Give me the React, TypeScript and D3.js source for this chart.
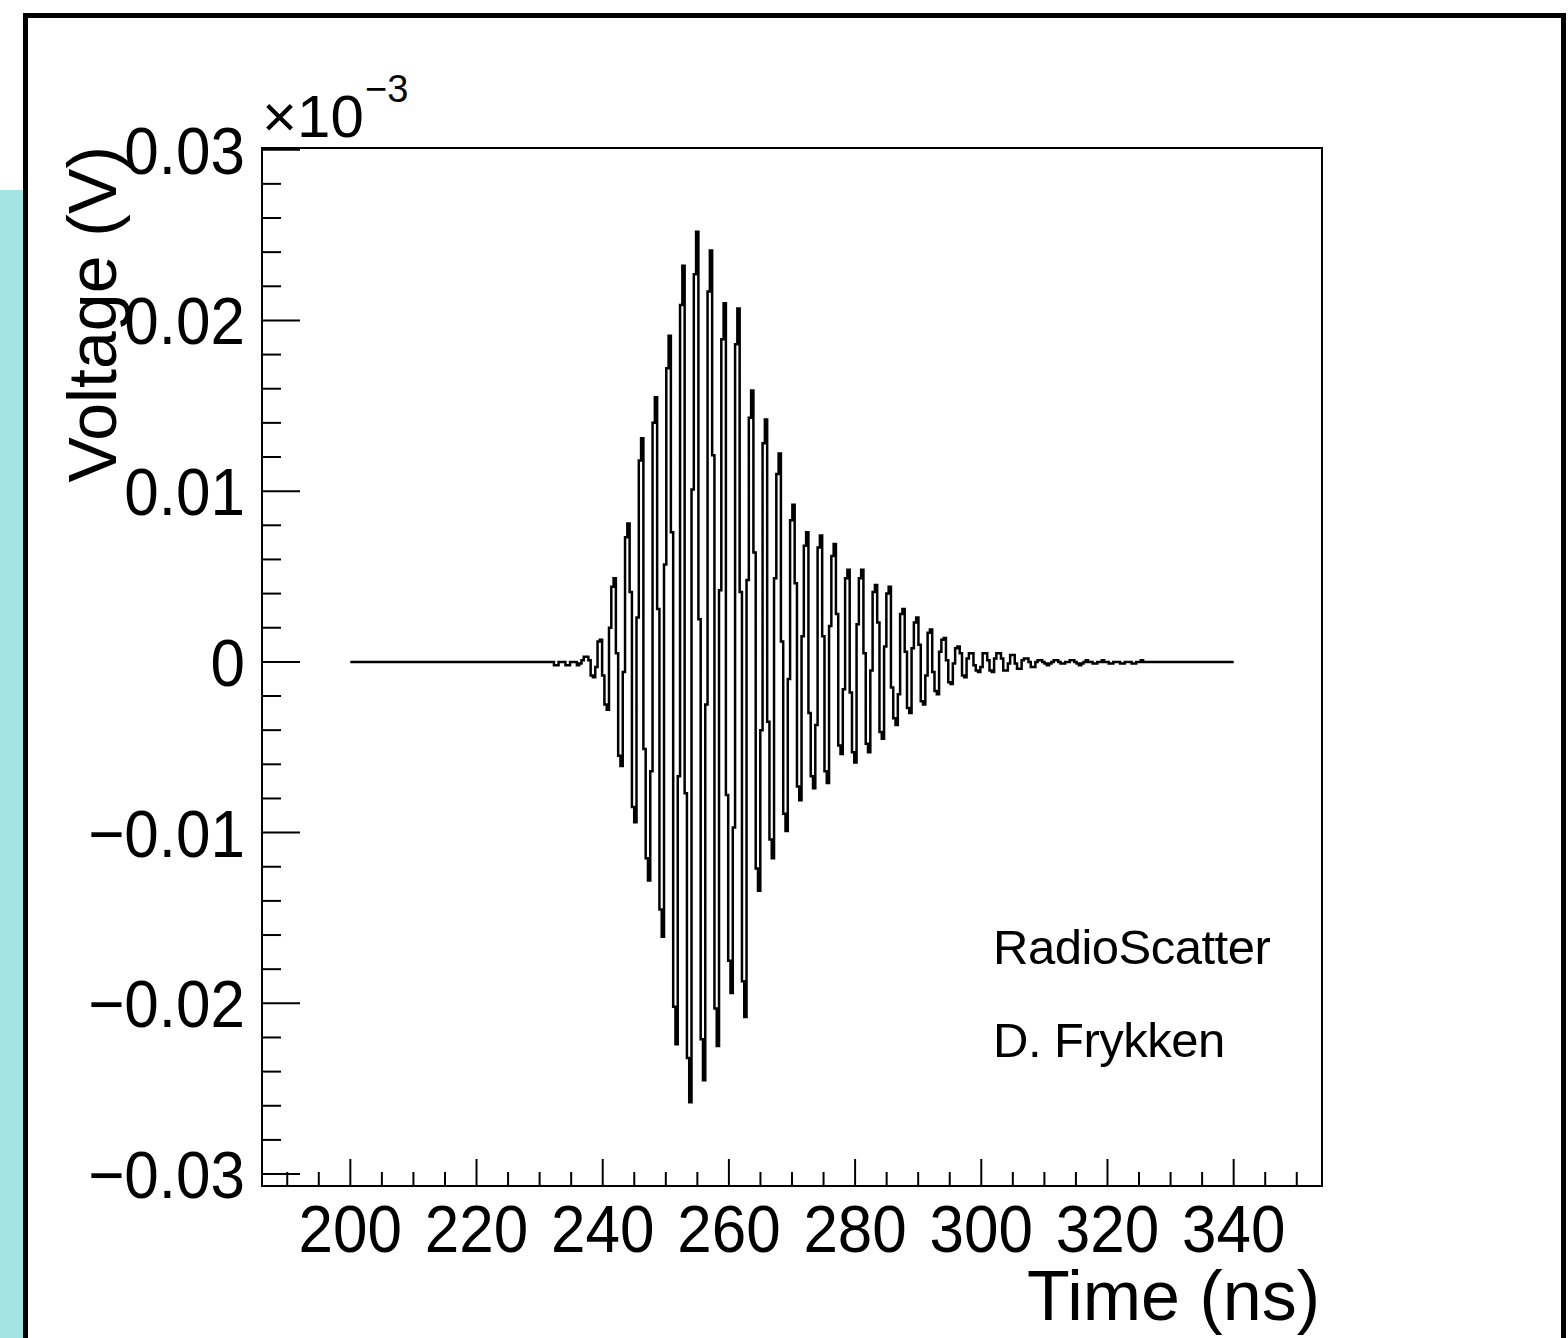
import React from "react";
import * as d3 from "d3";

// ---------- data ----------
const TIME_START = 200; // ns, flat baseline starts
const TIME_END = 340; // ns, flat baseline ends
const SIGNAL_START = 231.55; // ns, first digitised sample
const SAMPLE_NS = 0.3633; // ns per sample
const VOLT_UNIT = 1e-4; // sample values below are in units of 1e-4 V

const leadSamples = [0, 0, -2, -2, 0, 0, 0, -2, -2, 0, 0, 0, -2, -1, 1];

const burstSamples = [
  3, 3, 1, -8, -9, -3,
  12, 13, -8, -25, -28, 20,
  44, 49, 5, -55, -61, -6,
  73, 81, 41, -85, -94, 26,
  118, 131, -51, -115, -128, -64,
  140, 155, 31, -145, -161, 57,
  172, 191, 76, -202, -224, -67,
  209, 232, -77, -232, -258, 101,
  227, 252, 25, -221, -245, -25,
  217, 241, 121, -203, -225, 42,
  189, 210, -78, -175, -194, -97,
  186, 207, 41, -187, -208, 48,
  143, 159, 64, -121, -134, -40,
  128, 142, -35, -104, -115, 49,
  110, 122, 12, -89, -99, -10,
  83, 92, 46, -73, -81, 15,
  68, 76, -30, -67, -74, -37,
  67, 74, 15, -64, -71, 21,
  62, 69, 28, -49, -54, -16,
  49, 54, -18, -53, -59, 22,
  49, 54, 5, -48, -53, -5,
  41, 45, 23, -41, -45, 9,
  40, 44, -15, -33, -37, -19,
  28, 31, 6, -27, -30, 8,
  23, 26, 10, -23, -25, -8,
  17, 19, -6, -17, -19, 6,
  13, 14, 1, -12, -13, -1,
  8, 9, 5, -8, -9, 2,
  5, 5, -2, -5, -6, -3,
  5, 5, 1, -5, -6, 2,
  5, 5, 2, -5, -5, -1,
  4, 4, -1, -4, -4, 1,
  2, 2, 0, -3, -3, 0,
];

const tailSamples = [
  1, 1, 0, -1, -2, -1, 0, 1, 1, 0, -1, -1, 0, 0, 1, 1, 0, -1, -2, -1, 0, 1, 0, 0,
  -1, -1, 0, 0, 1, 0, 0, -1, -1, 0, 0, 0, -1, -1, 0, 0, 0, -1, -1, 0, 0, 1, 0,
];

const xMajorTicks = [200, 220, 240, 260, 280, 300, 320, 340];
const xTickLabels = ["200", "220", "240", "260", "280", "300", "320", "340"];
const yMajorTicks = [0.03, 0.02, 0.01, 0, -0.01, -0.02, -0.03];
const yTickLabels = ["0.03", "0.02", "0.01", "0", "\u22120.01", "\u22120.02", "\u22120.03"];

const X_DOMAIN = [186, 354];
const Y_DOMAIN = [-0.0307, 0.0301];

const FONT = "'Liberation Sans', Arial, Helvetica, sans-serif";

export default function App() {
  const left = 262,
    right = 1322,
    top = 148,
    bottom = 1186;

  const x = d3.scaleLinear().domain(X_DOMAIN).range([left, right]);
  const y = d3.scaleLinear().domain(Y_DOMAIN).range([bottom, top]);

  const all = [...leadSamples, ...burstSamples, ...tailSamples];
  const pts: [number, number][] = [[TIME_START, 0]];
  all.forEach((s, i) => pts.push([SIGNAL_START + i * SAMPLE_NS, s * VOLT_UNIT]));
  pts.push([SIGNAL_START + all.length * SAMPLE_NS, 0]);
  pts.push([TIME_END, 0]);

  const line = d3
    .line<[number, number]>()
    .x((d) => x(d[0]))
    .y((d) => y(d[1]))
    .curve(d3.curveStepAfter);

  const xMinor = d3
    .range(190, 355, 5)
    .filter((v) => v >= X_DOMAIN[0] && v <= X_DOMAIN[1] && !xMajorTicks.includes(v));
  const yMinor = d3
    .range(-30, 31, 2)
    .map((v) => v / 1000)
    .filter((v) => Math.round(v * 1000) % 10 !== 0);

  return (
    <div style={{ position: "absolute", left: 0, top: 0 }}>
      <svg width={1568} height={1338} style={{ display: "block", background: "#fff" }}>
        <rect x={0} y={0} width={1568} height={1338} fill="#fff" />
        {/* cyan strip */}
        <rect x={0} y={190} width={23} height={1148} fill="#a4e4e3" />
        {/* outer canvas border */}
        <rect x={25.5} y={15.5} width={1538} height={1400} fill="none" stroke="#000" strokeWidth={5} />

        {/* frame */}
        <rect x={left} y={top} width={right - left} height={bottom - top} fill="none" stroke="#000" strokeWidth={2} />

        {/* x ticks */}
        {xMajorTicks.map((t) => (
          <line key={"xM" + t} x1={x(t)} x2={x(t)} y1={bottom} y2={bottom - 27} stroke="#000" strokeWidth={2} />
        ))}
        {xMinor.map((t) => (
          <line key={"xm" + t} x1={x(t)} x2={x(t)} y1={bottom} y2={bottom - 14} stroke="#000" strokeWidth={2} />
        ))}
        {/* y ticks */}
        {yMajorTicks.map((t) => (
          <line key={"yM" + t} x1={left} x2={left + 38} y1={y(t)} y2={y(t)} stroke="#000" strokeWidth={2} />
        ))}
        {yMinor.map((t) => (
          <line key={"ym" + t} x1={left} x2={left + 19} y1={y(t)} y2={y(t)} stroke="#000" strokeWidth={2} />
        ))}

        {/* waveform */}
        <path d={line(pts) || ""} fill="none" stroke="#000" strokeWidth={2.5} strokeLinejoin="miter" />

        {/* x tick labels */}
        {xMajorTicks.map((t, i) => (
          <text
            key={"xl" + t}
            transform={`translate(${x(t)},1252) scale(1,1.08)`}
            textAnchor="middle"
            fontFamily={FONT}
            fontSize={62}
            fill="#000"
          >
            {xTickLabels[i]}
          </text>
        ))}
        {/* y tick labels */}
        {yMajorTicks.map((t, i) => (
          <text
            key={"yl" + t}
            transform={`translate(245,${y(t) + 24}) scale(1,1.08)`}
            textAnchor="end"
            fontFamily={FONT}
            fontSize={62}
            fill="#000"
          >
            {yTickLabels[i]}
          </text>
        ))}

        {/* exponent */}
        <text x={262} y={137} fontFamily={FONT} fontSize={60} fill="#000">
          ×10
        </text>
        <text x={365} y={102} fontFamily={FONT} fontSize={38} fill="#000">
          {"\u22123"}
        </text>

        {/* axis titles */}
        <text
          transform="translate(116,146) rotate(-90)"
          textAnchor="end"
          fontFamily={FONT}
          fontSize={68}
          fill="#000"
        >
          Voltage (V)
        </text>
        <text x={1320} y={1320} textAnchor="end" fontFamily={FONT} fontSize={70} fill="#000">
          Time (ns)
        </text>

        {/* annotations */}
        <text x={993} y={964} fontFamily={FONT} fontSize={49} fill="#000" letterSpacing={-0.5}>
          RadioScatter
        </text>
        <text x={993} y={1057} fontFamily={FONT} fontSize={49} fill="#000" letterSpacing={-0.5}>
          D. Frykken
        </text>
      </svg>
    </div>
  );
}
